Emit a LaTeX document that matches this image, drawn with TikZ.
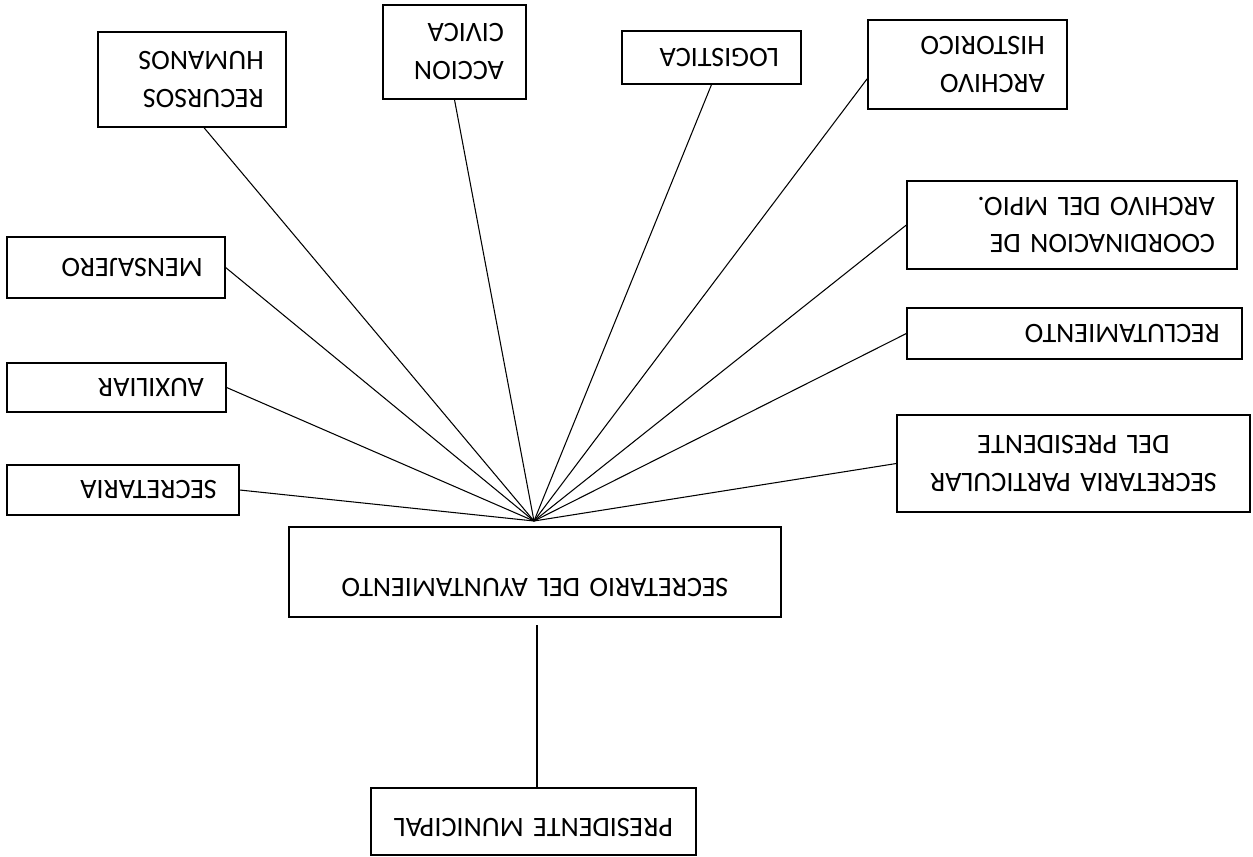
\documentclass[tikz,border=0pt]{standalone}
\usepackage{fontspec}
\setmainfont{Carlito}
\usepackage{tikz}

\tikzset{
  cargo/.style={draw, line width=0.75pt, align=left, inner xsep=0.44cm,
    font=\fontsize{16}{21.6}\selectfont},
  enlace/.style={line width=0.6pt},
}

\begin{document}
\begin{tikzpicture}[x=0.02cm, y=-0.02cm, rotate=180, transform shape]
\path[use as bounding box, fill=white] (0,0) rectangle (1253,856);

% Head of the chart
\node[cargo, align=center, text width=5.62cm, minimum height=1.34cm,
  text height=0.4cm, text depth=0.26cm] (pm) at (719.5,34.5) {PRESIDENTE MUNICIPAL};
\node[cargo, align=center, text width=8.96cm, minimum height=1.8cm,
  text height=0.4cm, text depth=0.65cm] (sa) at (718,284) {SECRETARIO DEL AYUNTAMIENTO};
\coordinate (sa-in) at (716,231);
\coordinate (hub) at (719,335);
\draw[enlace] (sa-in |- pm.south) -- (sa-in);

% Left column
\node[cargo, align=center, text width=6.18cm, minimum height=1.94cm] (sp) at (179.5,392.5) {SECRETARIA PARTICULAR\\DEL PRESIDENTE};
\node[cargo, text width=5.82cm, minimum height=1.02cm] (rc) at (178.5,522.5) {RECLUTAMIENTO};
\node[cargo, text width=5.72cm, minimum height=1.76cm] (cd) at (181,631) {COORDINACION DE\\ARCHIVO DEL MPIO.};
\node[cargo, text width=3.1cm, minimum height=1.78cm] (ah) at (285.5,791.5) {ARCHIVO\\HISTORICO};

% Bottom row
\node[cargo, text width=2.7cm, minimum height=1.06cm] (lg) at (541.5,798.5) {LOGISTICA};
\node[cargo, text width=1.98cm, minimum height=1.88cm] (ac) at (798.5,804) {ACCION\\CIVICA};
\node[cargo, text width=2.88cm, minimum height=1.9cm] (rh) at (1061,776.5) {RECURSOS\\HUMANOS};

% Right column
\node[cargo, text width=3.48cm, minimum height=1.22cm] (ms) at (1137,588.5) {MENSAJERO};
\node[cargo, text width=3.5cm, minimum height=0.98cm] (ax) at (1136.5,468.5) {AUXILIAR};
\node[cargo, text width=3.76cm, minimum height=1.0cm] (se) at (1130,366) {SECRETARIA};

% Lines out of the hub
\foreach \dest in {sp.east, rc.east, cd.east, ah.8, lg.north, ac.north, rh.104, ms.west, ax.west, se.west}
  \draw[enlace] (hub) -- (\dest);
\end{tikzpicture}
\end{document}
